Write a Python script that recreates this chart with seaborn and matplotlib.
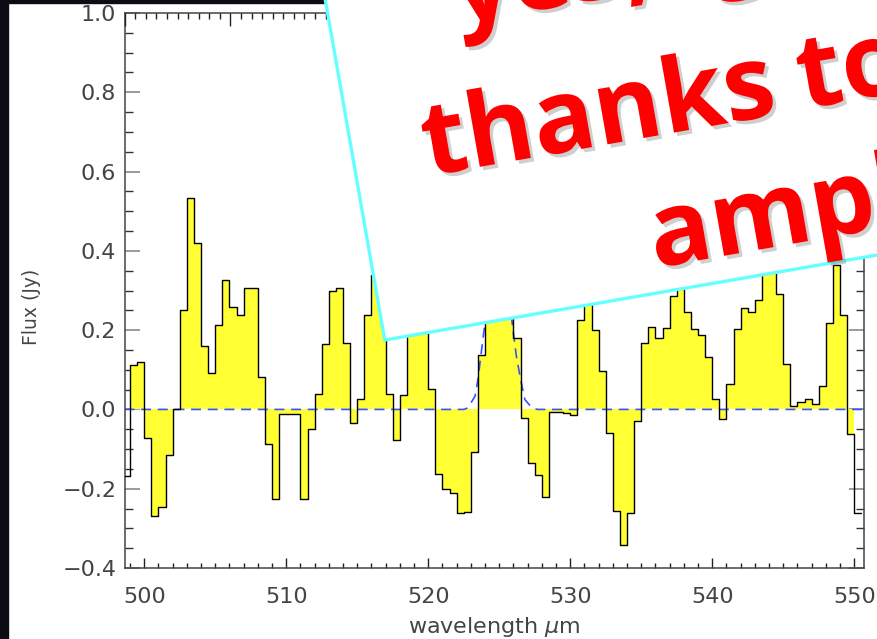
import numpy as np
import matplotlib
matplotlib.use("Agg")
import matplotlib.pyplot as plt
import seaborn as sns
from matplotlib.patches import Polygon, Rectangle
from matplotlib.ticker import MultipleLocator
import matplotlib.patheffects as pe

# ---------------- data ----------------
# flux per 0.5 um bin, bins starting at 498.5 um ... 550.0 um
bin_edges = np.arange(498.5, 550.51, 0.5)          # 105 edges
flux = [
    -0.168, 0.112, 0.120, -0.072, -0.269, -0.247, -0.114, 0.000, 0.250, 0.534,
    0.420, 0.160, 0.093, 0.212, 0.327, 0.258, 0.237, 0.306, 0.306, 0.081,
    -0.087, -0.226, -0.011, -0.011, -0.011, -0.226, -0.049, 0.038, 0.166, 0.300,
    0.307, 0.168, -0.034, 0.027, 0.239, 0.340, 0.280, 0.040, -0.076, 0.036,
    0.320, 0.360, 0.250, 0.051, -0.162, -0.200, -0.210, -0.261, -0.258, -0.108,
    0.137, 0.300, 0.420, 0.400, 0.280, 0.181, -0.021, -0.135, -0.165, -0.221,
    -0.007, -0.007, -0.008, -0.013, 0.226, 0.290, 0.200, 0.097, -0.060, -0.255,
    -0.343, -0.261, -0.028, 0.168, 0.207, 0.179, 0.205, 0.286, 0.320, 0.247,
    0.202, 0.187, 0.131, 0.027, -0.024, 0.065, 0.202, 0.257, 0.247, 0.275,
    0.360, 0.360, 0.290, 0.115, 0.008, 0.019, 0.026, 0.013, 0.059, 0.219,
    0.365, 0.237, -0.061, -0.261,
]
# dashed line model
model_wl = [498.6, 522.5, 522.8, 523.3, 523.5, 523.7, 524.0, 524.4, 525.0,
            525.5, 525.9, 526.2, 526.5, 526.8, 527.3, 527.7, 550.7]
model_flux = [0.0, 0.0, 0.004, 0.034, 0.076, 0.135, 0.22, 0.38, 0.48,
              0.36, 0.22, 0.135, 0.076, 0.025, 0.004, 0.0, 0.0]

x_ticks = [500, 510, 520, 530, 540, 550]
y_ticks = [-0.4, -0.2, 0.0, 0.2, 0.4, 0.6, 0.8, 1.0]
text_words = ["yes,", "g", "thanks", "to", "ampl"]

# ---------------- style ----------------
sns.set_style("white")
plt.rcParams["font.family"] = ["DejaVu Sans"]
plt.rcParams["mathtext.fontset"] = "dejavusans"
TXT = "#444444"

W, H = 877, 639
fig = plt.figure(figsize=(W / 100, H / 100), dpi=100)
fig.patch.set_facecolor("white")

L, R, T, B = 124.7, 863.5, 13.0, 568.0
ax = fig.add_axes([L / W, (H - B) / H, (R - L) / W, (B - T) / H])
ax.set_facecolor("white")

flux_arr = np.asarray(flux)
step_y = np.append(flux_arr, flux_arr[-1])

# yellow fill (bins 499 .. 550)
fx = bin_edges[1:104]
fy = np.append(flux_arr[1:103], flux_arr[102])
ax.fill_between(fx, fy, 0, step="post", color="#ffff33", linewidth=0, zorder=1)

# model dashed line
sns.lineplot(x=model_wl, y=model_flux, ax=ax, color="#3355ff", linewidth=1.2,
             linestyle=(0, (6, 4)), zorder=2, sort=False)

# step outline
sns.lineplot(x=bin_edges, y=step_y, ax=ax, color="black", linewidth=1.0,
             drawstyle="steps-post", zorder=3, sort=False)

ax.set_xlim(498.62, 550.65)
ax.set_ylim(-0.4, 1.0)
ax.set_xticks(x_ticks)
ax.set_yticks(y_ticks)
ax.xaxis.set_minor_locator(MultipleLocator(1))
ax.yaxis.set_minor_locator(MultipleLocator(0.05))
ax.tick_params(axis="x", which="major", direction="in", length=7.2, width=1,
               color="#222222", labelsize=16, labelcolor=TXT, pad=13.5,
               bottom=True, top=False)
ax.tick_params(axis="x", which="minor", direction="in", length=3.6, width=1,
               color="#222222", bottom=True, top=False)
ax.tick_params(axis="y", which="major", direction="in", length=10.8, width=1.2,
               color="#8a8a8a", labelsize=16, labelcolor=TXT, pad=6,
               left=True, right=True)
ax.tick_params(axis="y", which="minor", direction="in", length=5.8, width=1,
               color="#333333", left=True, right=True)
for s in ax.spines.values():
    s.set_color("#444444")
    s.set_linewidth(1.1)

ax.set_xlabel(r"wavelength $\mu$m", fontsize=16, color=TXT, labelpad=6)
ax.set_ylabel("Flux (Jy)", fontsize=13.5, color=TXT)
ax.yaxis.set_label_coords(-0.113, 0.47)

# top axis with its own (unlabelled) scale
axt = ax.twiny()
axt.set_xlim(0, (R - L) / 10.57)
axt.xaxis.set_major_locator(MultipleLocator(10))
axt.xaxis.set_minor_locator(MultipleLocator(1))
axt.tick_params(axis="x", which="major", direction="in", length=9, width=1,
                color="#222222", labeltop=False, top=True)
axt.tick_params(axis="x", which="minor", direction="in", length=4.3, width=1,
                color="#222222", top=True)
for s in axt.spines.values():
    s.set_visible(False)

# ---------------- slide overlay ----------------
ov = fig.add_axes([0, 0, 1, 1], zorder=10)
ov.set_xlim(0, W)
ov.set_ylim(H, 0)
ov.axis("off")
ov.patch.set_alpha(0)

ov.add_patch(Rectangle((0, 0), 8, H, color="#0c0c14", zorder=1))
ov.add_patch(Rectangle((0, 0), W, 3, color="#0c0c14", zorder=1))

poly = Polygon([(307.5, -102), (384.7, 340), (1000, 233.8), (1000, -102)],
               closed=True, facecolor="white", edgecolor="#66ffff",
               linewidth=2.4, zorder=2)
ov.add_patch(poly)

shadow = [pe.withSimplePatchShadow(offset=(2.5, -2.5), shadow_rgbFace="#888888",
                                   alpha=0.4)]
anchors = [(458, 24), (712, -19), (428, 176), (803, 109), (655, 268)]
for (tx, ty), s in zip(anchors, text_words):
    ov.text(tx, ty, s, rotation=10, rotation_mode="anchor", ha="left",
            va="baseline", fontsize=74, color="#ff0000", fontweight="bold",
            family=["Open Sans", "DejaVu Sans"], zorder=3, path_effects=shadow)

fig.savefig("out.png", dpi=100, facecolor="white")
